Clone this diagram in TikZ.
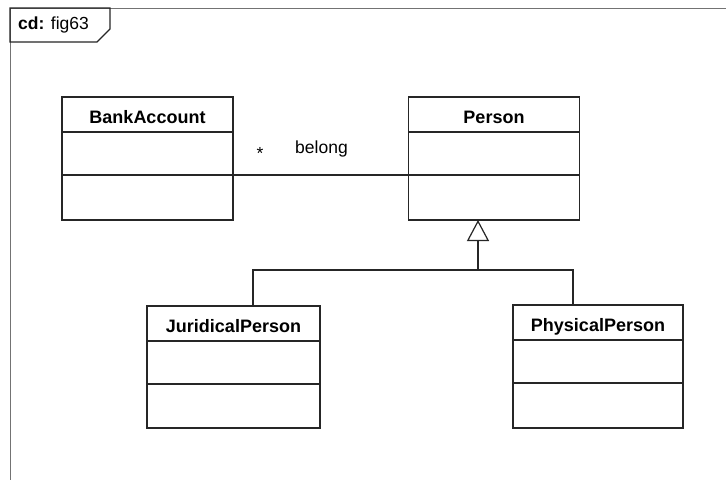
\documentclass[tikz,border=0pt]{standalone}
\usepackage{fontspec}
\setmainfont{Liberation Sans}
\usetikzlibrary{arrows.meta,calc}
\begin{document}
\begin{tikzpicture}[x=1pt,y=-1pt,
  classbox/.style={draw=black!85, line width=1.3pt, fill=white, minimum width=171pt, minimum height=123pt, inner sep=0pt, outer sep=0pt},
  classname/.style={font=\fontsize{18}{20}\selectfont\bfseries, anchor=base, inner sep=0pt},
  conn/.style={draw=black!85, line width=1.2pt},
  gen/.style={conn, -{Triangle[open, length=21pt, width=22pt, line width=1.2pt]}},
  lbl/.style={font=\fontsize{17.5}{20}\selectfont, inner sep=0pt, anchor=base}]
\useasboundingbox (0,0) rectangle (726,480);
\fill[white] (0,0) rectangle (726,480);

% diagram frame and its name tab
\draw[black!55, line width=1pt] (726,8) -- (10,8) -- (10,480);
\draw[black!85, line width=1.1pt] (10,8) -- (110,8) -- (110,29) -- (97,42) -- (10,42) -- cycle;
\node[lbl, anchor=base west] (tab) at (18,29) {\textbf{cd:} fig63};

% classes: name, attribute and operation compartments
\node[classbox] (ba) at (147.5,158.5) {};
\node[classbox] (p) at (494,158.5) {};
\node[classbox, minimum width=173pt, minimum height=122pt] (jp) at (233.5,367) {};
\node[classbox, minimum width=170pt, minimum height=123pt] (pp) at (598,366.5) {};

\foreach \c/\t in {ba/BankAccount, p/Person, jp/JuridicalPerson, pp/PhysicalPerson}{
  \draw[black!85, line width=1.3pt] ($(\c.north west)+(0,35)$) -- ($(\c.north east)+(0,35)$);
  \draw[black!85, line width=1.3pt] ($(\c.north west)+(0,78)$) -- ($(\c.north east)+(0,78)$);
  \node[classname] at ($(\c.north)+(0,26)$) {\t};
}

% association
\draw[conn] ([yshift=-16.5pt]ba.east) -- ([yshift=-16.5pt]p.west);
\node[lbl] (mult) at (260,159) {*};
\node[lbl] (assoc) at (321.5,153) {belong};

% generalization
\coordinate (j) at (478,270);
\draw[conn] ([xshift=19.5pt]jp.north) |- (j) -| ([xshift=-25pt]pp.north);
\draw[gen] (j) -- ([xshift=-16pt]p.south);
\end{tikzpicture}
\end{document}
